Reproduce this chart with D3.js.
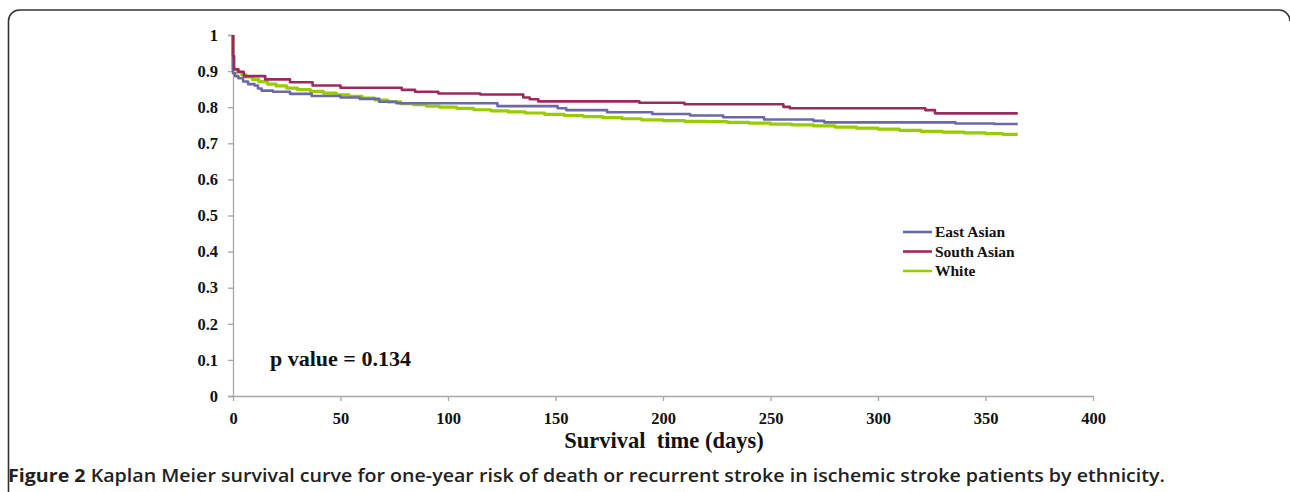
<!DOCTYPE html>
<html><head><meta charset="utf-8">
<script src="https://cdn.jsdelivr.net/npm/d3@7"></script>
<style>body{margin:0;background:#fff}svg{display:block}</style>
</head><body>
<svg id="c" width="1290" height="492"></svg>
<script>
const seriesNames = ["East Asian", "South Asian", "White"];
const seriesColors = ["#6a68a8", "#9b2a5c", "#99cc00"];
const eastAsian = [[0,1],[0,0.894],[1,0.886],[2.5,0.88],[4.7,0.871],[7,0.864],[10,0.86],[11.6,0.852],[13.3,0.846],[18.6,0.843],[26.5,0.837],[36.6,0.831],[50,0.827],[59,0.823],[68,0.815],[76,0.811],[123,0.803],[151,0.797],[155,0.792],[174,0.786],[195,0.781],[212.6,0.777],[228,0.772],[247,0.766],[270,0.762],[275,0.758],[336,0.755],[354,0.7535],[365,0.7535]];
const southAsian = [[0,1],[0,0.942],[0.5,0.905],[2.5,0.898],[5,0.886],[15,0.877],[26.5,0.869],[37,0.86],[50,0.854],[78.5,0.848],[84.7,0.843],[95.5,0.838],[115,0.835],[135,0.827],[138,0.822],[142,0.816],[189,0.8125],[210,0.808],[256,0.801],[259,0.797],[322,0.792],[326.5,0.783],[365,0.783]];
const white = [[0,1],[0,0.905],[2,0.897],[4,0.89],[6,0.884],[9,0.877],[12,0.871],[16,0.864],[20,0.859],[25,0.853],[30,0.849],[36,0.844],[42,0.839],[48,0.834],[54,0.83],[60,0.825],[66,0.82],[72,0.815],[78,0.81],[84,0.807],[90,0.803],[96,0.8],[104,0.797],[112,0.793],[120,0.79],[128,0.787],[136,0.784],[145,0.78],[154,0.777],[163,0.774],[172,0.771],[181,0.768],[190,0.765],[200,0.763],[210,0.761],[220,0.76],[230,0.758],[240,0.756],[250,0.753],[260,0.751],[270,0.748],[280,0.745],[290,0.742],[300,0.739],[310,0.736],[320,0.733],[330,0.731],[340,0.729],[350,0.727],[358,0.725],[365,0.725]];
const xTicks = [0,50,100,150,200,250,300,350,400];
const yTicks = [0,0.1,0.2,0.3,0.4,0.5,0.6,0.7,0.8,0.9,1];
const xTitle = "Survival\u00a0 time (days)";
const pText = "p value = 0.134";
const captionBold = "Figure 2";
const captionRest = " Kaplan Meier survival curve for one-year risk of death or recurrent stroke in ischemic stroke patients by ethnicity.";

const svg = d3.select("#c");
const serif = "'Liberation Serif','Times New Roman',serif";
const x = d3.scaleLinear().domain([0,400]).range([233,1093]);
const y = d3.scaleLinear().domain([0,1]).range([396,35]);

// frame
svg.append("path")
  .attr("d","M8.5,492 V21 A11,11 0 0 1 19.5,10 H1279 A11,11 0 0 1 1290,21")
  .attr("fill","none").attr("stroke","#333").attr("stroke-width",1.6);

const axisColor = "#a6a6a6";
const gx = svg.append("g").attr("transform","translate(0,396)")
  .call(d3.axisBottom(x).tickValues(xTicks).tickSize(5).tickPadding(6).tickFormat(d3.format("d")));
const gy = svg.append("g").attr("transform","translate(233,0)")
  .call(d3.axisLeft(y).tickValues(yTicks).tickSize(5).tickPadding(10).tickFormat(d => d===0||d===1 ? String(d) : d3.format(".1f")(d)));
[gx,gy].forEach(g=>{
  g.select(".domain").attr("stroke",axisColor).attr("stroke-width",1.3);
  g.selectAll(".tick line").attr("stroke",axisColor).attr("stroke-width",1.3);
  g.selectAll("text").attr("fill","#111").attr("font-family",serif).attr("font-weight","bold").attr("font-size",16.5);
});
gx.select(".domain").attr("d","M233,0.5H1093");
gx.selectAll(".tick text").attr("dy","1.05em");

const line = d3.line().x(d=>x(d[0])).y(d=>y(d[1])).curve(d3.curveStepAfter);
const all = [eastAsian, southAsian, white];
[2,0,1].forEach(i=>{
  svg.append("path").datum(all[i]).attr("d",line)
    .attr("fill","none").attr("stroke",seriesColors[i])
    .attr("stroke-width", i===2?3.2:2.6).attr("stroke-linejoin","round");
});

// legend
const lg = svg.append("g");
seriesNames.forEach((n,i)=>{
  const yy = 232 + i*19.5;
  lg.append("line").attr("x1",903).attr("x2",932).attr("y1",yy).attr("y2",yy)
    .attr("stroke",seriesColors[i]).attr("stroke-width",2.6);
  lg.append("text").attr("x",935).attr("y",yy+5).text(n)
    .attr("font-family",serif).attr("font-weight","bold").attr("font-size",15.5).attr("fill","#111");
});

svg.append("text").attr("x",270).attr("y",366).text(pText)
  .attr("font-family",serif).attr("font-weight","bold").attr("font-size",22).attr("fill","#111");

svg.append("text").attr("x",664).attr("y",448).attr("text-anchor","middle").text(xTitle)
  .attr("font-family",serif).attr("font-weight","bold").attr("font-size",22.5).attr("fill","#111");

const cap = svg.append("text").attr("x",8).attr("y",482)
  .attr("font-family","'Open Sans',sans-serif").attr("font-size",17.5).attr("fill","#222")
  .attr("textLength",1157).attr("lengthAdjust","spacingAndGlyphs");
cap.append("tspan").attr("font-weight",700).text(captionBold);
cap.append("tspan").attr("font-weight",600).text(captionRest);
</script>
</body></html>
